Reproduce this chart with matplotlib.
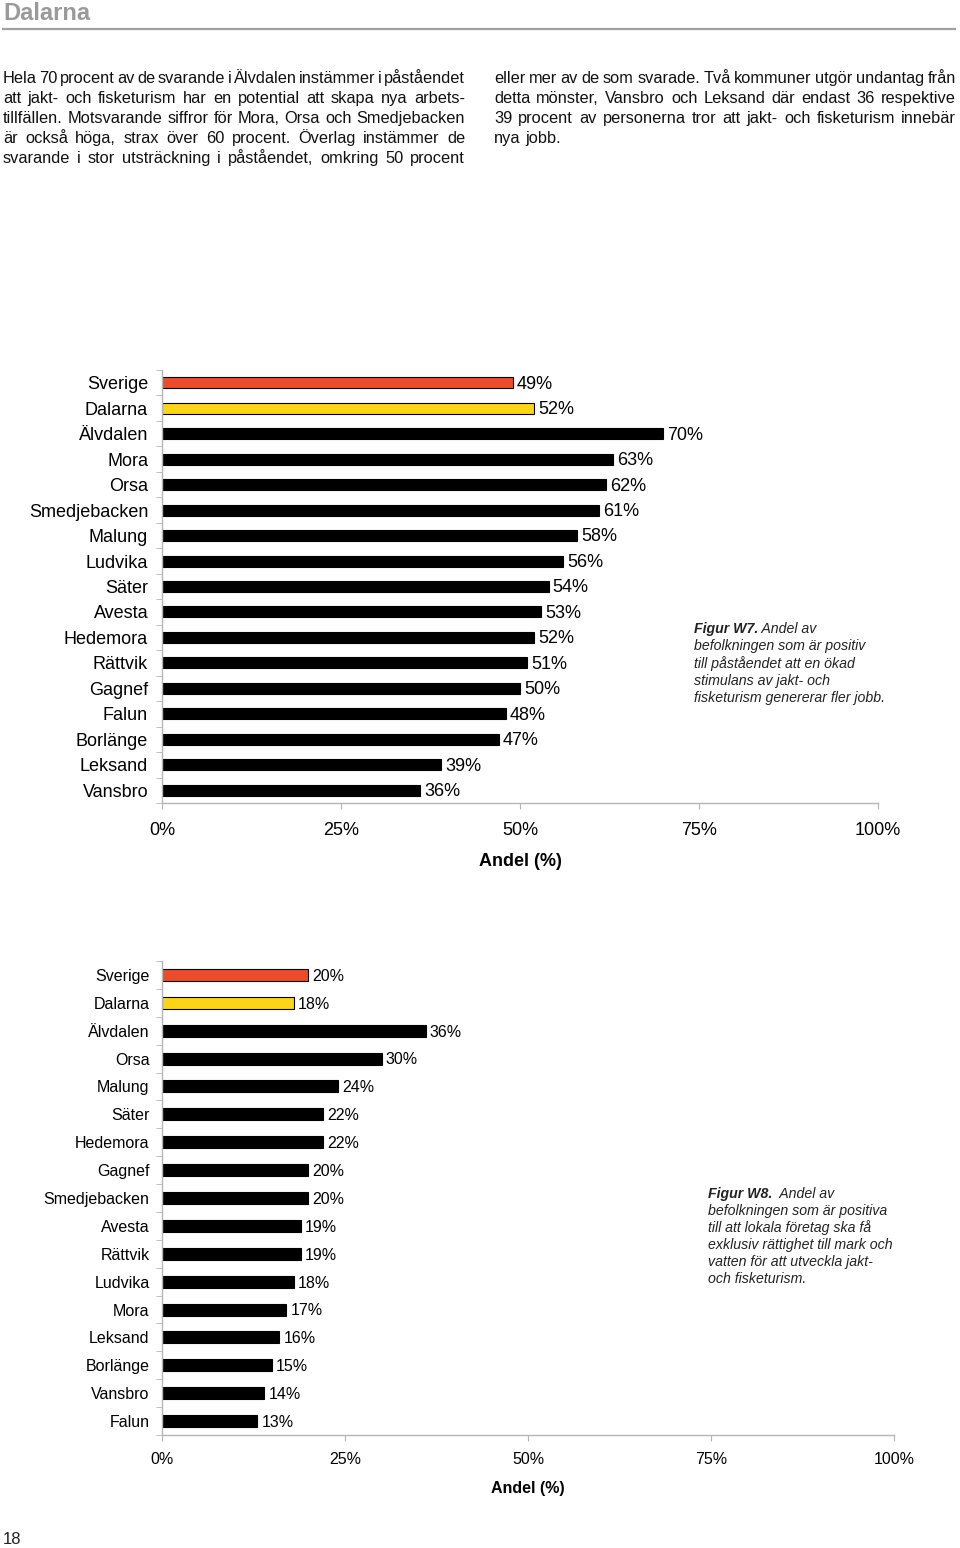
import matplotlib
matplotlib.use("Agg")
import matplotlib.pyplot as plt

# ------------------------------------------------------------
# Data
# ------------------------------------------------------------
kommuner_w7 = ["Sverige", "Dalarna", "Älvdalen", "Mora", "Orsa", "Smedjebacken",
               "Malung", "Ludvika", "Säter", "Avesta", "Hedemora", "Rättvik",
               "Gagnef", "Falun", "Borlänge", "Leksand", "Vansbro"]
andel_w7 = [49, 52, 70, 63, 62, 61, 58, 56, 54, 53, 52, 51, 50, 48, 47, 39, 36]

kommuner_w8 = ["Sverige", "Dalarna", "Älvdalen", "Orsa", "Malung", "Säter",
               "Hedemora", "Gagnef", "Smedjebacken", "Avesta", "Rättvik",
               "Ludvika", "Mora", "Leksand", "Borlänge", "Vansbro", "Falun"]
andel_w8 = [20, 18, 36, 30, 24, 22, 22, 20, 20, 19, 19, 18, 17, 16, 15, 14, 13]

xticks = [0, 25, 50, 75, 100]

text_left = [
    "Hela 70 procent av de svarande i Älvdalen instämmer i påståendet",
    "att jakt- och fisketurism har en potential att skapa nya arbets-",
    "tillfällen. Motsvarande siffror för Mora, Orsa och Smedjebacken",
    "är också höga, strax över 60 procent. Överlag instämmer de",
    "svarande  i stor utsträckning i påståendet, omkring 50 procent",
]
text_right = [
    "eller mer av de som svarade. Två kommuner utgör undantag från",
    "detta mönster, Vansbro och Leksand där endast 36 respektive",
    "39 procent av personerna tror att jakt- och fisketurism innebär",
    "nya jobb.",
]
caption_w7 = ["befolkningen som är positiv", "till påståendet att en ökad",
              "stimulans av jakt- och", "fisketurism genererar fler jobb."]
caption_w8 = ["befolkningen som är positiva", "till att lokala företag ska få",
              "exklusiv rättighet till mark och", "vatten för att utveckla jakt-",
              "och fisketurism."]

RED = "#EC4C2A"
YELLOW = "#FCD616"
AXCOL = "#b5b5b5"

plt.rcParams["font.family"] = ["Liberation Sans", "DejaVu Sans"]

W, H = 960, 1548
fig = plt.figure(figsize=(W / 100, H / 100), dpi=100)
renderer = fig.canvas.get_renderer()


def fx(x):
    return x / W


def fy(y):
    return 1 - y / H


def text_line(x0, x1, y_base, line, justify=True, **kw):
    words = line.split()
    texts = [fig.text(0, 0, w, va="baseline", ha="left", **kw) for w in words]
    widths = [t.get_window_extent(renderer).width for t in texts]
    if justify and len(words) > 1:
        gap = (x1 - x0 - sum(widths)) / (len(words) - 1)
    else:
        gap = kw.get("fontsize", 10) * 1.389 * 0.28
    x = x0
    for t, w in zip(texts, widths):
        t.set_position((fx(x), fy(y_base)))
        x += w + gap


# ------------------------------------------------------------
# Header + body text
# ------------------------------------------------------------
fig.text(fx(3), fy(13), "Dalarna", fontsize=17, fontweight="bold",
         color="#9a9a9a", va="center", ha="left")
fig.add_artist(plt.Line2D([fx(3), fx(955)], [fy(29), fy(29)], color="#a0a0a0", lw=1.6))

base_y = [83, 103, 123, 143, 163]
for i, line in enumerate(text_left):
    text_line(3, 465, base_y[i], line, justify=True, fontsize=11.8, color="#111111")
for i, line in enumerate(text_right):
    text_line(494, 956, base_y[i], line, justify=(i < len(text_right) - 1),
              fontsize=11.8, color="#111111")


# ------------------------------------------------------------
# Bar charts
# ------------------------------------------------------------
def bar_chart(rect, names, vals, fs_lab, fs_tick, ypad, xpad):
    ax = fig.add_axes(rect)
    n = len(names)
    colors = [RED, YELLOW] + ["black"] * (n - 2)
    ax.barh(range(n), vals, height=0.43, color=colors, edgecolor="black", linewidth=0.8)
    for i, v in enumerate(vals):
        ax.annotate(f"{v}%", (v, i), xytext=(3, -1), textcoords="offset points",
                    va="center", ha="left", fontsize=fs_lab)
    ax.set_xlim(0, 100)
    ax.set_ylim(n - 0.5, -0.5)
    ax.set_xticks(xticks)
    ax.set_xticklabels([f"{t}%" for t in xticks], fontsize=fs_tick)
    ax.set_yticks(range(n))
    ax.set_yticklabels(names, fontsize=fs_lab)
    ax.set_yticks([i - 0.5 for i in range(n + 1)], minor=True)
    ax.tick_params(axis="y", which="major", length=0, pad=ypad)
    ax.tick_params(axis="y", which="minor", length=4, color=AXCOL, direction="out")
    ax.tick_params(axis="x", length=4, color=AXCOL, direction="out", pad=xpad)
    for s in ["top", "right"]:
        ax.spines[s].set_visible(False)
    for s in ["left", "bottom"]:
        ax.spines[s].set_color(AXCOL)
        ax.spines[s].set_linewidth(1.0)
    return ax


bar_chart([fx(162), fy(803), fx(878) - fx(162), fy(370) - fy(803)],
          kommuner_w7, andel_w7, 13, 13, 10, 9.5)
fig.text(fx(520), fy(861), "Andel (%)", fontsize=13, fontweight="bold",
         ha="center", va="center")

bar_chart([fx(162), fy(1435), fx(894) - fx(162), fy(961) - fy(1435)],
          kommuner_w8, andel_w8, 11.5, 11.5, 9, 8.5)
fig.text(fx(528), fy(1488), "Andel (%)", fontsize=11.5, fontweight="bold",
         ha="center", va="center")


# ------------------------------------------------------------
# Captions
# ------------------------------------------------------------
def caption(x, y0, step, head, first_rest, lines, fs=10.2):
    t = fig.text(fx(x), fy(y0), head, fontsize=fs, fontweight="bold", style="italic",
                 va="center", ha="left", color="#222222")
    w = t.get_window_extent(renderer).width
    fig.text(fx(x + w), fy(y0), first_rest, fontsize=fs, style="italic",
             va="center", ha="left", color="#222222")
    for i, line in enumerate(lines):
        fig.text(fx(x), fy(y0 + step * (i + 1)), line, fontsize=fs, style="italic",
                 va="center", ha="left", color="#222222")


caption(694, 629, 17.3, "Figur W7.", " Andel av", caption_w7)
caption(708, 1194, 17, "Figur W8.", "  Andel av", caption_w8)

fig.text(fx(3), fy(1540), "18", fontsize=12, va="center", ha="left", color="#222222")

fig.savefig("out.png", dpi=100)
